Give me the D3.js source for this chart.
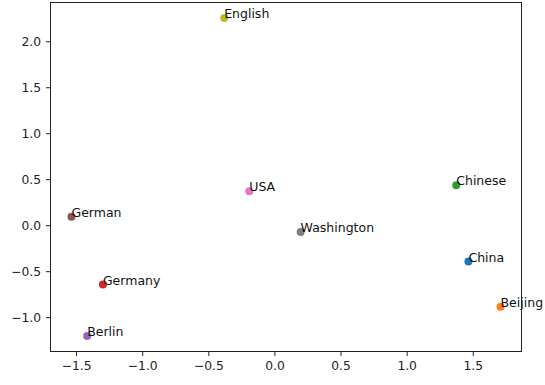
<!DOCTYPE html>
<html>
<head>
<meta charset="utf-8">
<script src="https://cdn.jsdelivr.net/npm/d3@7"></script>
<style>
  html, body { margin: 0; padding: 0; background: #fff; }
  svg { display: block; font-family: "DejaVu Sans", sans-serif; }
</style>
</head>
<body>
<svg id="chart" width="545" height="385"></svg>
<script>
// Word embedding projection: 2-D coordinates per word
const words = ["China", "Beijing", "Chinese", "Germany", "Berlin", "German", "USA", "Washington", "English"];
const xValues = [1.467, 1.71, 1.375, -1.297, -1.416, -1.535, -0.19, 0.198, -0.38];
const yValues = [-0.395, -0.886, 0.435, -0.646, -1.206, 0.093, 0.37, -0.074, 2.254];
const xTicks = [-1.5, -1.0, -0.5, 0.0, 0.5, 1.0, 1.5];
const yTicks = [-1.0, -0.5, 0.0, 0.5, 1.0, 1.5, 2.0];
const palette = ["#1f77b4", "#ff7f0e", "#2ca02c", "#d62728", "#9467bd", "#8c564b", "#e377c2", "#7f7f7f", "#bcbd22"];

const points = words.map((w, i) => ({ word: w, x: xValues[i], y: yValues[i], color: palette[i] }));

const plot = { left: 50, top: 2, right: 522, bottom: 352 };

// 5% autoscale margin on each side, like a default scatter
function padded(vals) {
  const [lo, hi] = d3.extent(vals);
  const m = (hi - lo) * 0.05;
  return [lo - m, hi + m];
}

const x = d3.scaleLinear().domain(padded(xValues)).range([plot.left, plot.right]);
const y = d3.scaleLinear().domain(padded(yValues)).range([plot.bottom, plot.top]);

const svg = d3.select("#chart");
const fmt = d3.format(".1f");

const xAxis = svg.append("g")
  .attr("transform", `translate(0,${plot.bottom})`)
  .call(d3.axisBottom(x).tickValues(xTicks).tickFormat(fmt).tickSize(4).tickSizeOuter(0).tickPadding(5));
const yAxis = svg.append("g")
  .attr("transform", `translate(${plot.left},0)`)
  .call(d3.axisLeft(y).tickValues(yTicks).tickFormat(fmt).tickSize(4).tickSizeOuter(0).tickPadding(5));

[xAxis, yAxis].forEach(g => {
  g.select(".domain").remove();
  g.selectAll("line").attr("stroke", "#222").attr("stroke-width", 1);
  g.selectAll("text").attr("fill", "#222").style("font-size", "12.3px").style("font-family", "DejaVu Sans, sans-serif");
});

// frame around the plotting area
svg.append("rect")
  .attr("x", plot.left + 0.5).attr("y", plot.top + 0.5)
  .attr("width", plot.right - plot.left - 1).attr("height", plot.bottom - plot.top - 1)
  .attr("fill", "none").attr("stroke", "#222").attr("stroke-width", 1);

const marks = svg.append("g");
marks.selectAll("circle")
  .data(points)
  .join("circle")
  .attr("cx", d => x(d.x))
  .attr("cy", d => y(d.y))
  .attr("r", 4)
  .attr("fill", d => d.color);

marks.selectAll("text")
  .data(points)
  .join("text")
  .attr("x", d => x(d.x))
  .attr("y", d => y(d.y))
  .attr("fill", "#111")
  .style("font-size", "12.5px")
  .text(d => d.word);
</script>
</body>
</html>
